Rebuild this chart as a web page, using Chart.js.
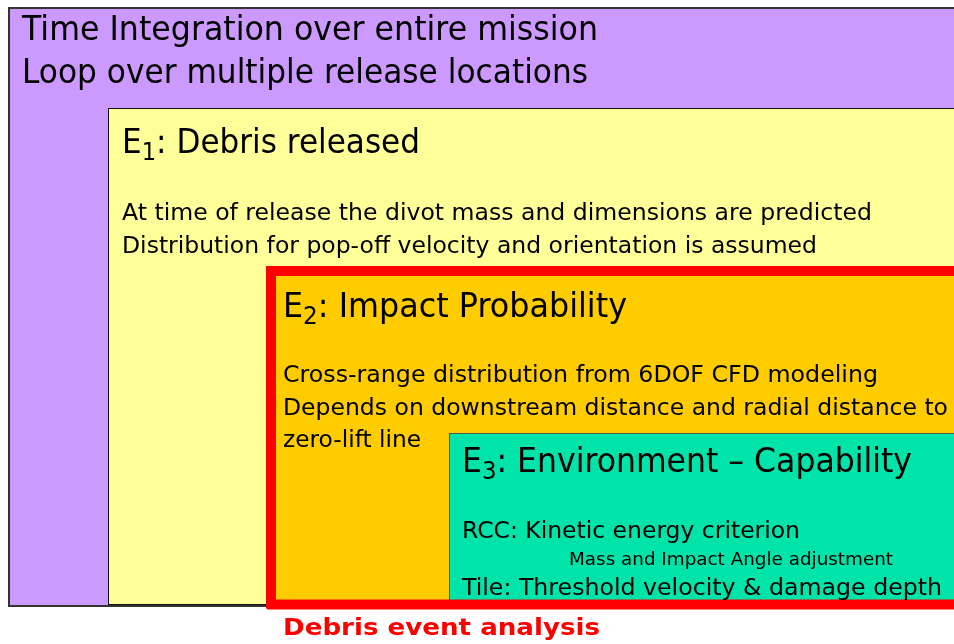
<!DOCTYPE html>
<html>
<head>
<meta charset="utf-8">
<script src="https://cdn.jsdelivr.net/npm/chart.js@4.4.1/dist/chart.umd.min.js"></script>
<style>
  html, body { margin: 0; padding: 0; background: #fff; }
  canvas { display: block; }
</style>
</head>
<body>
<canvas id="diagram" width="954" height="644"></canvas>
<script>
// Nested boxes of the analysis, outermost first (axis units = page pixels)
var boxNames  = ['Mission loop', 'E1 Debris released', 'E2 Impact Probability', 'E3 Environment - Capability'];
var boxLeft   = [9, 108, 270.5, 449];
var boxTop    = [8, 108, 270.5, 433];
var boxRight  = [990, 990, 990, 990];
var boxBottom = [606, 604, 604, 604];

// Text lines: each is a list of [text, isSubscript] runs
var textLines = [
    [['Time Integration over entire mission', 0]],
    [['Loop over multiple release locations', 0]],
    [['E', 0], ['1', 1], [': Debris released', 0]],
    [['At time of release the divot mass and dimensions are predicted', 0]],
    [['Distribution for pop-off velocity and orientation is assumed', 0]],
    [['E', 0], ['2', 1], [': Impact Probability', 0]],
    [['Cross-range distribution from 6DOF CFD modeling', 0]],
    [['Depends on downstream distance and radial distance to', 0]],
    [['zero-lift line', 0]],
    [['E', 0], ['3', 1], [': Environment \u2013 Capability', 0]],
    [['RCC: Kinetic energy criterion', 0]],
    [['Mass and Impact Angle adjustment', 0]],
    [['Tile: Threshold velocity & damage depth', 0]],
    [['Debris event analysis', 0]]
];
var textX     = [22, 22, 122, 122, 122, 283, 283, 283, 283, 462, 462, 569, 462, 283];
var textY     = [40, 83, 153, 220, 253, 317, 382, 415, 447, 472, 538, 565, 595, 635];
var textEnd   = [598, 588, 420, 872, 817, 627, 878, 948, 421, 912, 800, 893, 942, 600];

var boxFill   = ['#cc99ff', '#ffff99', '#ffcc00', '#00e3a9'];
var boxStroke = ['#333333', '#111111', '#ff0000', '#555555'];
var boxWidth  = [2, 1, 9, 1];
var textSize  = [33, 33, 33, 23, 23, 33, 23, 23, 23, 33, 23, 18, 23, 23];
var FONT = 'Tahoma, "DejaVu Sans", sans-serif';

function fontFor(size, bold) {
    return (bold ? 'bold ' : '') + size + 'px ' + FONT;
}

var diagramPlugin = {
    id: 'nestedBoxes',
    beforeDatasetsDraw: function (chart) {
        var ctx = chart.ctx;
        var xs = chart.scales.x, ys = chart.scales.y;
        ctx.save();
        ctx.fillStyle = '#ffffff';
        ctx.fillRect(0, 0, chart.width, chart.height);

        boxNames.forEach(function (name, i) {
            var x0 = xs.getPixelForValue(boxLeft[i]);
            var x1 = xs.getPixelForValue(boxRight[i]);
            var y0 = ys.getPixelForValue(boxTop[i]);
            var y1 = ys.getPixelForValue(boxBottom[i]);
            ctx.fillStyle = boxFill[i];
            ctx.fillRect(x0, y0, x1 - x0, y1 - y0);
        });
        // borders drawn after fills so the red frame sits on top of E3
        boxNames.forEach(function (name, i) {
            var x0 = xs.getPixelForValue(boxLeft[i]);
            var x1 = xs.getPixelForValue(boxRight[i]);
            var y0 = ys.getPixelForValue(boxTop[i]);
            var y1 = ys.getPixelForValue(boxBottom[i]);
            ctx.strokeStyle = boxStroke[i];
            ctx.lineWidth = boxWidth[i];
            var off = boxWidth[i] % 2 ? 0.5 : 0;
            ctx.strokeRect(Math.round(x0) + off, Math.round(y0) + off, x1 - x0, y1 - y0);
        });
        // keep the red frame above the inner boxes
        var r = 2;
        ctx.strokeStyle = boxStroke[r];
        ctx.lineWidth = boxWidth[r];
        ctx.strokeRect(xs.getPixelForValue(boxLeft[r]), ys.getPixelForValue(boxTop[r]),
            xs.getPixelForValue(boxRight[r]) - xs.getPixelForValue(boxLeft[r]),
            ys.getPixelForValue(boxBottom[r]) - ys.getPixelForValue(boxTop[r]));

        textLines.forEach(function (runs, i) {
            var size = textSize[i];
            var bold = i === textLines.length - 1;
            var subSize = Math.round(size * 0.72);
            var natural = 0;
            runs.forEach(function (run) {
                ctx.font = fontFor(run[1] ? subSize : size, bold);
                natural += ctx.measureText(run[0]).width;
            });
            var x = xs.getPixelForValue(textX[i]);
            var y = ys.getPixelForValue(textY[i]);
            var target = xs.getPixelForValue(textEnd[i]) - x;
            ctx.save();
            ctx.translate(x, y);
            ctx.scale(target / natural, 1);
            ctx.fillStyle = bold ? '#ff0000' : '#000000';
            ctx.textBaseline = 'alphabetic';
            var cx = 0;
            runs.forEach(function (run) {
                ctx.font = fontFor(run[1] ? subSize : size, bold);
                ctx.fillText(run[0], cx, run[1] ? Math.round(size * 0.22) : 0);
                cx += ctx.measureText(run[0]).width;
            });
            ctx.restore();
        });
        ctx.restore();
    }
};

new Chart(document.getElementById('diagram'), {
    type: 'scatter',
    data: { datasets: [{ data: [], pointRadius: 0 }] },
    options: {
        responsive: false,
        animation: false,
        events: [],
        layout: { padding: 0 },
        plugins: { legend: { display: false }, tooltip: { enabled: false } },
        scales: {
            x: { type: 'linear', min: 0, max: 954, display: false },
            y: { type: 'linear', min: 0, max: 644, reverse: true, display: false }
        }
    },
    plugins: [diagramPlugin]
});
</script>
</body>
</html>
